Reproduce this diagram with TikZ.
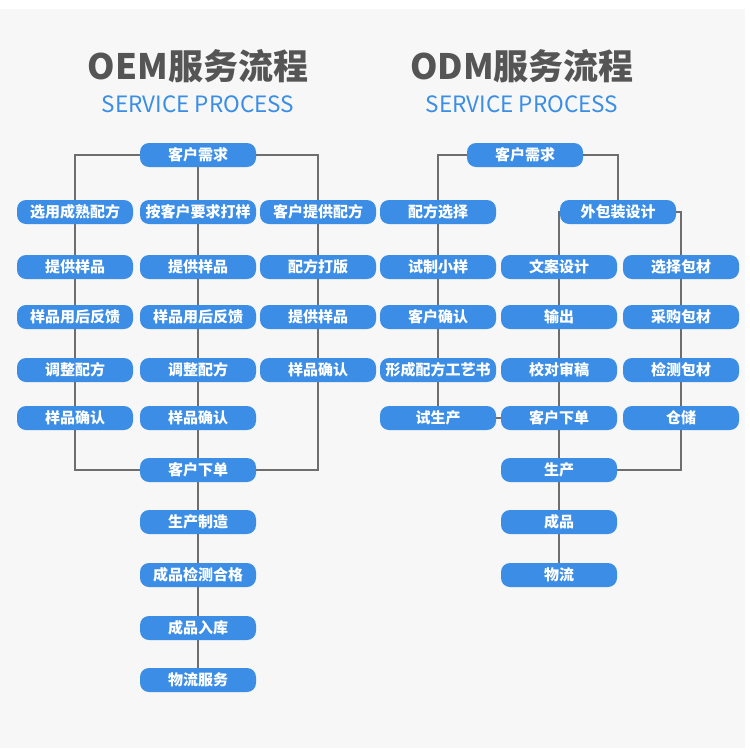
\documentclass[tikz,border=0pt]{standalone}
\usepackage{fontspec}
\setmainfont{Noto Sans CJK SC}
\usetikzlibrary{positioning}
\definecolor{boxblue}{HTML}{3C8DE5}
\definecolor{linegray}{HTML}{6E6E6E}
\definecolor{titlegray}{HTML}{555555}
\definecolor{bggray}{HTML}{F7F7F7}
\definecolor{subblue}{HTML}{3A8EE6}
\tikzset{
  proc/.style={rectangle, rounded corners=9pt, fill=boxblue, text=white,
    minimum width=116pt, minimum height=24pt, inner sep=0pt,
    font=\fontsize{15}{17}\selectfont\bfseries},
  link/.style={draw=linegray, line width=1.5pt},
  headline/.style={text=titlegray, font=\fontsize{35}{39}\selectfont\bfseries},
  subline/.style={text=subblue, font=\fontsize{22.5}{25}\selectfont},
}
\begin{document}
\begin{tikzpicture}[x=1pt, y=-1pt]
  \useasboundingbox (0,0) rectangle (750,750);
  \fill[bggray] (0,9) rectangle (745,748);

  % OEM
  \node[headline] (oemtitle) at (198,66) {OEM服务流程};
  \node[subline] (oemsub) at (198,104) {SERVICE PROCESS};
  \node[proc] (ask) at (198,155) {客户需求};
  \node[proc] (a1) at (75,212) {选用成熟配方};
  \node[proc] (a2) at (75,267) {提供样品};
  \node[proc] (a3) at (75,317) {样品用后反馈};
  \node[proc] (a4) at (75,370) {调整配方};
  \node[proc] (a5) at (75,418) {样品确认};
  \node[proc] (b1) at (198,212) {按客户要求打样};
  \node[proc] (b2) at (198,267) {提供样品};
  \node[proc] (b3) at (198,317) {样品用后反馈};
  \node[proc] (b4) at (198,370) {调整配方};
  \node[proc] (b5) at (198,418) {样品确认};
  \node[proc] (c1) at (318,212) {客户提供配方};
  \node[proc] (c2) at (318,267) {配方打版};
  \node[proc] (c3) at (318,317) {提供样品};
  \node[proc] (c4) at (318,370) {样品确认};
  \node[proc] (order) at (198,470) {客户下单};
  \node[proc] (make) at (198,522) {生产制造};
  \node[proc] (check) at (198,575) {成品检测合格};
  \node[proc] (store) at (198,628) {成品入库};
  \node[proc] (ship) at (198,680) {物流服务};

  \draw[link] (ask.west) -| (a1.north);
  \draw[link] (ask.east) -| (c1.north);
  \draw[link] (ask) -- (b1);
  \foreach \p/\q in {a1/a2, a2/a3, a3/a4, a4/a5, b1/b2, b2/b3, b3/b4, b4/b5,
    b5/order, c1/c2, c2/c3, c3/c4, order/make, make/check, check/store, store/ship}
    \draw[link] (\p) -- (\q);
  \draw[link] (a5.south) |- (order.west);
  \draw[link] (c4.south) |- (order.east);

  % ODM
  \node[headline] (odmtitle) at (522,66) {ODM服务流程};
  \node[subline] (odmsub) at (522,104) {SERVICE PROCESS};
  \node[proc] (dask) at (525,155) {客户需求};
  \node[proc] (dform) at (438,212) {配方选择};
  \node[proc] (dpack) at (618,212) {外包装设计};
  \node[proc] (d11) at (438,267) {试制小样};
  \node[proc] (d12) at (438,317) {客户确认};
  \node[proc] (d13) at (438,370) {形成配方工艺书};
  \node[proc] (d14) at (438,418) {试生产};
  \node[proc] (d21) at (559,267) {文案设计};
  \node[proc] (d22) at (559,317) {输出};
  \node[proc] (d23) at (559,370) {校对审稿};
  \node[proc] (dorder) at (559,418) {客户下单};
  \node[proc] (dmake) at (559,470) {生产};
  \node[proc] (dgoods) at (559,522) {成品};
  \node[proc] (dship) at (559,575) {物流};
  \node[proc] (d31) at (681,267) {选择包材};
  \node[proc] (d32) at (681,317) {采购包材};
  \node[proc] (d33) at (681,370) {检测包材};
  \node[proc] (d34) at (681,418) {仓储};

  \draw[link] (dask.west) -| (dform.north);
  \draw[link] (dask.east) -| (dpack.north);
  \draw[link] (dpack.west) -| (d21.north);
  \draw[link] (dpack.east) -| (d31.north);
  \foreach \p/\q in {dform/d11, d11/d12, d12/d13, d13/d14, d21/d22, d22/d23,
    d23/dorder, dorder/dmake, dmake/dgoods, dgoods/dship, d31/d32, d32/d33, d33/d34}
    \draw[link] (\p) -- (\q);
  \draw[link] (d14) -- (dorder);
  \draw[link] (d34.south) |- (dmake.east);
\end{tikzpicture}
\end{document}
